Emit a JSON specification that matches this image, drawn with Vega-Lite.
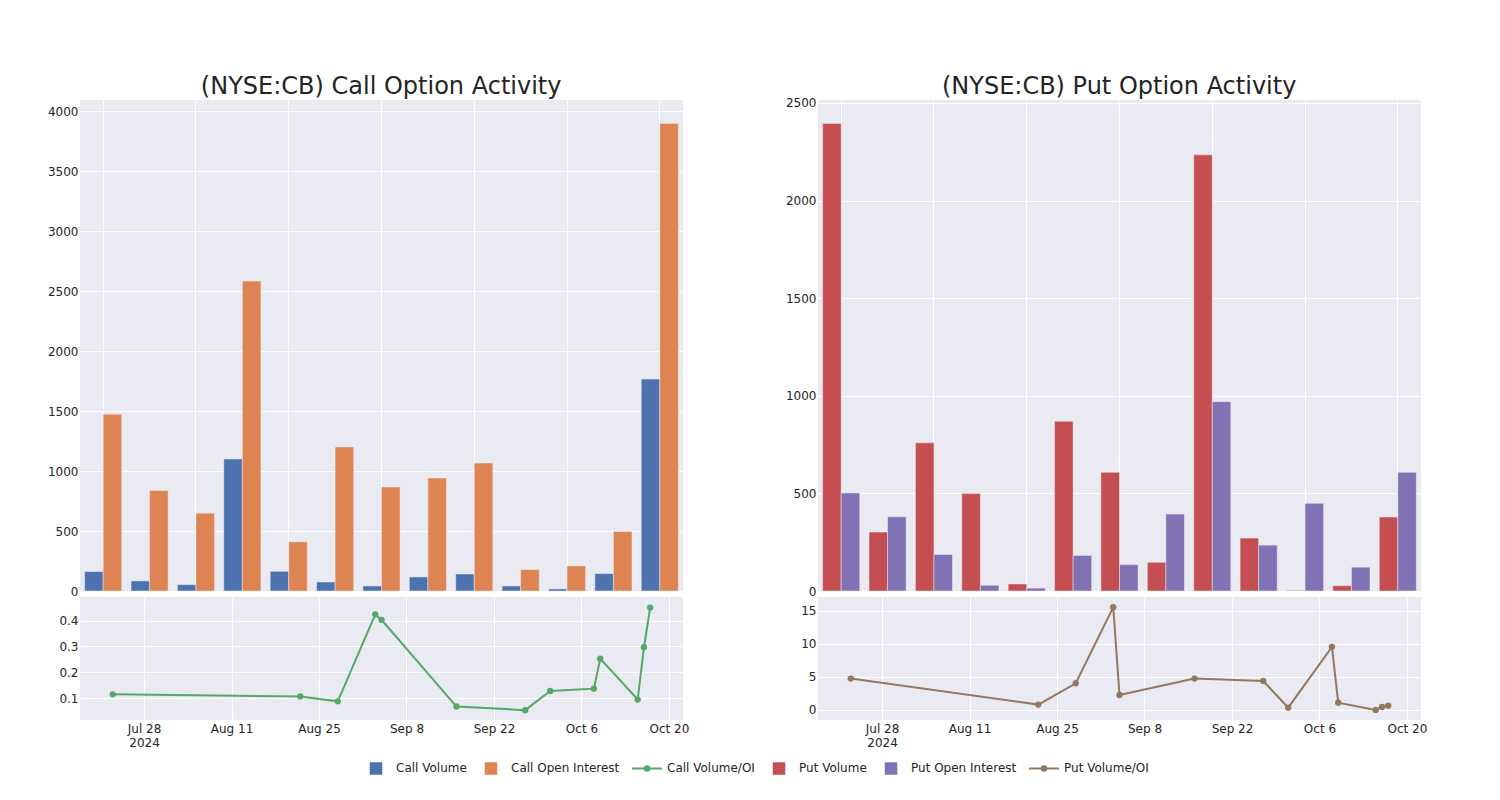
{
  "$schema": "https://vega.github.io/schema/vega-lite/v6.json",
  "background": "white",
  "padding": {"left": 47, "top": 74, "right": 10, "bottom": 10},
  "config": {
    "font": "DejaVu Sans",
    "view": {"fill": "#EAEAF2", "stroke": null},
    "axis": {"grid": true, "gridColor": "#FFFFFF", "gridWidth": 1, "domain": false, "ticks": false, "labelFont": "DejaVu Sans", "labelFontSize": 12, "labelColor": "#242424", "labelPadding": 2, "title": null},
    "title": {"fontSize": 24, "font": "DejaVu Sans", "fontWeight": "normal", "color": "#242424", "anchor": "middle", "offset": 1}
  },
  "datasets": {
    "callbars": [
      {"date": "2024-07-23", "series": "Call Volume", "value": 162},
      {"date": "2024-08-22", "series": "Call Volume", "value": 84},
      {"date": "2024-08-28", "series": "Call Volume", "value": 53},
      {"date": "2024-09-03", "series": "Call Volume", "value": 1101},
      {"date": "2024-09-04", "series": "Call Volume", "value": 164},
      {"date": "2024-09-16", "series": "Call Volume", "value": 75},
      {"date": "2024-09-27", "series": "Call Volume", "value": 42},
      {"date": "2024-10-01", "series": "Call Volume", "value": 117},
      {"date": "2024-10-08", "series": "Call Volume", "value": 142},
      {"date": "2024-10-09", "series": "Call Volume", "value": 42},
      {"date": "2024-10-15", "series": "Call Volume", "value": 17},
      {"date": "2024-10-16", "series": "Call Volume", "value": 145},
      {"date": "2024-10-17", "series": "Call Volume", "value": 1767},
      {"date": "2024-07-23", "series": "Call Open Interest", "value": 1474},
      {"date": "2024-08-22", "series": "Call Open Interest", "value": 839},
      {"date": "2024-08-28", "series": "Call Open Interest", "value": 649},
      {"date": "2024-09-03", "series": "Call Open Interest", "value": 2584},
      {"date": "2024-09-04", "series": "Call Open Interest", "value": 410},
      {"date": "2024-09-16", "series": "Call Open Interest", "value": 1201},
      {"date": "2024-09-27", "series": "Call Open Interest", "value": 867},
      {"date": "2024-10-01", "series": "Call Open Interest", "value": 942},
      {"date": "2024-10-08", "series": "Call Open Interest", "value": 1067},
      {"date": "2024-10-09", "series": "Call Open Interest", "value": 178},
      {"date": "2024-10-15", "series": "Call Open Interest", "value": 209},
      {"date": "2024-10-16", "series": "Call Open Interest", "value": 496},
      {"date": "2024-10-17", "series": "Call Open Interest", "value": 3899}
    ],
    "putbars": [
      {"date": "2024-07-23", "series": "Put Volume", "value": 2395},
      {"date": "2024-08-22", "series": "Put Volume", "value": 302},
      {"date": "2024-08-28", "series": "Put Volume", "value": 759},
      {"date": "2024-09-03", "series": "Put Volume", "value": 499},
      {"date": "2024-09-04", "series": "Put Volume", "value": 36},
      {"date": "2024-09-16", "series": "Put Volume", "value": 870},
      {"date": "2024-09-27", "series": "Put Volume", "value": 608},
      {"date": "2024-10-01", "series": "Put Volume", "value": 147},
      {"date": "2024-10-08", "series": "Put Volume", "value": 2234},
      {"date": "2024-10-09", "series": "Put Volume", "value": 271},
      {"date": "2024-10-15", "series": "Put Volume", "value": 3},
      {"date": "2024-10-16", "series": "Put Volume", "value": 27},
      {"date": "2024-10-17", "series": "Put Volume", "value": 379},
      {"date": "2024-07-23", "series": "Put Open Interest", "value": 502},
      {"date": "2024-08-22", "series": "Put Open Interest", "value": 380},
      {"date": "2024-08-28", "series": "Put Open Interest", "value": 187},
      {"date": "2024-09-03", "series": "Put Open Interest", "value": 29},
      {"date": "2024-09-04", "series": "Put Open Interest", "value": 15},
      {"date": "2024-09-16", "series": "Put Open Interest", "value": 182},
      {"date": "2024-09-27", "series": "Put Open Interest", "value": 135},
      {"date": "2024-10-01", "series": "Put Open Interest", "value": 394},
      {"date": "2024-10-08", "series": "Put Open Interest", "value": 970},
      {"date": "2024-10-09", "series": "Put Open Interest", "value": 235},
      {"date": "2024-10-15", "series": "Put Open Interest", "value": 449},
      {"date": "2024-10-16", "series": "Put Open Interest", "value": 122},
      {"date": "2024-10-17", "series": "Put Open Interest", "value": 608}
    ],
    "callratio": [
      {"date": "2024-07-23", "series": "Call Volume/OI", "value": 0.115},
      {"date": "2024-08-22", "series": "Call Volume/OI", "value": 0.107},
      {"date": "2024-08-28", "series": "Call Volume/OI", "value": 0.088},
      {"date": "2024-09-03", "series": "Call Volume/OI", "value": 0.424},
      {"date": "2024-09-04", "series": "Call Volume/OI", "value": 0.403},
      {"date": "2024-09-16", "series": "Call Volume/OI", "value": 0.068},
      {"date": "2024-09-27", "series": "Call Volume/OI", "value": 0.054},
      {"date": "2024-10-01", "series": "Call Volume/OI", "value": 0.128},
      {"date": "2024-10-08", "series": "Call Volume/OI", "value": 0.137},
      {"date": "2024-10-09", "series": "Call Volume/OI", "value": 0.253},
      {"date": "2024-10-15", "series": "Call Volume/OI", "value": 0.095},
      {"date": "2024-10-16", "series": "Call Volume/OI", "value": 0.297},
      {"date": "2024-10-17", "series": "Call Volume/OI", "value": 0.45}
    ],
    "putratio": [
      {"date": "2024-07-23", "series": "Put Volume/OI", "value": 4.75},
      {"date": "2024-08-22", "series": "Put Volume/OI", "value": 0.81},
      {"date": "2024-08-28", "series": "Put Volume/OI", "value": 4.04},
      {"date": "2024-09-03", "series": "Put Volume/OI", "value": 15.56},
      {"date": "2024-09-04", "series": "Put Volume/OI", "value": 2.27},
      {"date": "2024-09-16", "series": "Put Volume/OI", "value": 4.75},
      {"date": "2024-09-27", "series": "Put Volume/OI", "value": 4.39},
      {"date": "2024-10-01", "series": "Put Volume/OI", "value": 0.35},
      {"date": "2024-10-08", "series": "Put Volume/OI", "value": 9.55},
      {"date": "2024-10-09", "series": "Put Volume/OI", "value": 1.11},
      {"date": "2024-10-15", "series": "Put Volume/OI", "value": 0.0},
      {"date": "2024-10-16", "series": "Put Volume/OI", "value": 0.45},
      {"date": "2024-10-17", "series": "Put Volume/OI", "value": 0.65}
    ]
  },
  "resolve": {"scale": {"color": "shared", "xOffset": "independent"}},
  "spacing": 96,
  "hconcat": [
    {
      "title": {"text": "(NYSE:CB) Call Option Activity", "dx": 13},
      "spacing": 0,
      "resolve": {"scale": {"color": "shared", "xOffset": "independent"}},
      "vconcat": [
        {
          "width": 603,
          "height": 491,
          "data": {"name": "callbars"},
          "mark": {"type": "bar", "stroke": "#EAEAF2", "strokeWidth": 0.5},
          "encoding": {
            "x": {"field": "date", "type": "nominal", "scale": {"paddingInner": 0.2, "paddingOuter": 0.1},
              "axis": {"labels": false, "bandPosition": 0.5, "values": ["2024-07-23", "2024-08-28", "2024-09-04", "2024-09-27", "2024-10-08", "2024-10-15", "2024-10-17"]}},
            "xOffset": {"field": "series", "type": "nominal", "scale": {"domain": ["Call Volume", "Call Open Interest"], "paddingInner": 0, "paddingOuter": 0}},
            "y": {"field": "value", "type": "quantitative", "scale": {"domain": [0, 4094], "nice": false},
              "axis": {"format": "d", "values": [0, 500, 1000, 1500, 2000, 2500, 3000, 3500, 4000]}},
            "color": {"field": "series", "type": "nominal",
              "scale": {"domain": ["Call Volume", "Call Open Interest", "Call Volume/OI", "Put Volume", "Put Open Interest", "Put Volume/OI"],
                        "range": ["#4C72B0", "#DD8452", "#55A868", "#C44E52", "#8172B3", "#937860"]},
              "legend": {
                "orient": "none", "legendX": 280, "legendY": 652, "direction": "horizontal", "columns": 6, "title": null,
                "symbolSize": 900, "symbolStrokeWidth": 2, "labelFontSize": 12, "labelColor": "#242424", "labelFont": "DejaVu Sans",
                "labelOffset": 4, "columnPadding": 8,
                "encoding": {
                  "symbols": {
                    "shape": {"value": {"expr": "indexof(datum.value, '/OI') >= 0 ? 'M0,-0.35L0,-0.35M0,0.35L0,0.35M-1,0L1,0M-0.15,0A0.15,0.15,0,1,1,0.15,0A0.15,0.15,0,1,1,-0.15,0Z' : 'M-0.35,-0.35L0.35,-0.35L0.35,0.35L-0.35,0.35Z'"}},
                    "fill": {"value": {"expr": "scale('color', datum.value)"}},
                    "stroke": {"value": {"expr": "scale('color', datum.value)"}},
                    "opacity": {"value": 1},
                    "fillOpacity": {"value": 1},
                    "strokeOpacity": {"value": 1}
                  }
                }
              }}
          }
        },
        {
          "width": 603,
          "height": 123,
          "data": {"name": "callratio"},
          "mark": {"type": "line", "strokeWidth": 2, "point": {"filled": true, "size": 40, "opacity": 1}},
          "encoding": {
            "x": {"field": "date", "type": "temporal",
              "scale": {"type": "utc", "domain": [{"year": 2024, "month": 7, "date": 17, "hours": 18, "utc": true}, {"year": 2024, "month": 10, "date": 22, "hours": 6, "utc": true}]},
              "axis": {"labelPadding": 3, "labelFlush": false, "labelOverlap": false,
                "values": [{"year": 2024, "month": 7, "date": 28, "utc": true}, {"year": 2024, "month": 8, "date": 11, "utc": true}, {"year": 2024, "month": 8, "date": 25, "utc": true}, {"year": 2024, "month": 9, "date": 8, "utc": true}, {"year": 2024, "month": 9, "date": 22, "utc": true}, {"year": 2024, "month": 10, "date": 6, "utc": true}, {"year": 2024, "month": 10, "date": 20, "utc": true}],
                "labelExpr": "utcFormat(datum.value, '%b %-d') == 'Jul 28' ? ['Jul 28', '2024'] : utcFormat(datum.value, '%b %-d')"}},
            "y": {"field": "value", "type": "quantitative", "scale": {"domain": [0.016, 0.491], "nice": false, "zero": false},
              "axis": {"values": [0.1, 0.2, 0.3, 0.4]}},
            "color": {"field": "series", "type": "nominal"}
          }
        }
      ]
    },
    {
      "title": {"text": "(NYSE:CB) Put Option Activity", "dx": 13, "dy": 3},
      "spacing": 0,
      "resolve": {"scale": {"color": "shared", "xOffset": "independent"}},
      "vconcat": [
        {
          "width": 603,
          "height": 491,
          "data": {"name": "putbars"},
          "mark": {"type": "bar", "stroke": "#EAEAF2", "strokeWidth": 0.5},
          "encoding": {
            "x": {"field": "date", "type": "nominal", "scale": {"paddingInner": 0.2, "paddingOuter": 0.1},
              "axis": {"labels": false, "bandPosition": 0.5, "values": ["2024-07-23", "2024-08-28", "2024-09-04", "2024-09-27", "2024-10-08", "2024-10-15", "2024-10-17"]}},
            "xOffset": {"field": "series", "type": "nominal", "scale": {"domain": ["Put Volume", "Put Open Interest"], "paddingInner": 0, "paddingOuter": 0}},
            "y": {"field": "value", "type": "quantitative", "scale": {"domain": [0, 2515], "nice": false},
              "axis": {"format": "d", "values": [0, 500, 1000, 1500, 2000, 2500]}},
            "color": {"field": "series", "type": "nominal"}
          }
        },
        {
          "width": 603,
          "height": 123,
          "data": {"name": "putratio"},
          "mark": {"type": "line", "strokeWidth": 2, "point": {"filled": true, "size": 40, "opacity": 1}},
          "encoding": {
            "x": {"field": "date", "type": "temporal",
              "scale": {"type": "utc", "domain": [{"year": 2024, "month": 7, "date": 17, "hours": 18, "utc": true}, {"year": 2024, "month": 10, "date": 22, "hours": 6, "utc": true}]},
              "axis": {"labelPadding": 3, "labelFlush": false, "labelOverlap": false,
                "values": [{"year": 2024, "month": 7, "date": 28, "utc": true}, {"year": 2024, "month": 8, "date": 11, "utc": true}, {"year": 2024, "month": 8, "date": 25, "utc": true}, {"year": 2024, "month": 9, "date": 8, "utc": true}, {"year": 2024, "month": 9, "date": 22, "utc": true}, {"year": 2024, "month": 10, "date": 6, "utc": true}, {"year": 2024, "month": 10, "date": 20, "utc": true}],
                "labelExpr": "utcFormat(datum.value, '%b %-d') == 'Jul 28' ? ['Jul 28', '2024'] : utcFormat(datum.value, '%b %-d')"}},
            "y": {"field": "value", "type": "quantitative", "scale": {"domain": [-1.52, 17.1], "nice": false, "zero": false},
              "axis": {"values": [0, 5, 10, 15]}},
            "color": {"field": "series", "type": "nominal"}
          }
        }
      ]
    }
  ]
}
